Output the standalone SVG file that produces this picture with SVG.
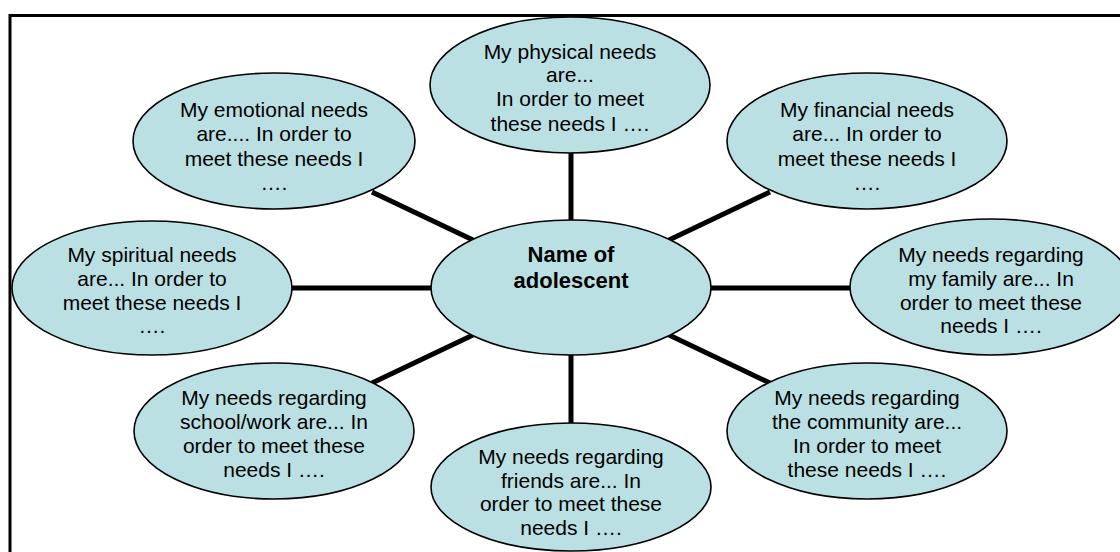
<svg xmlns="http://www.w3.org/2000/svg" width="1120" height="552" viewBox="0 0 1120 552">
<style>
.bg{fill:#ffffff}
.frame{fill:none;stroke:#000;stroke-width:3}
.node{fill:#BBE0E3;stroke:#000;stroke-width:1.6}
.conn{stroke:#000;stroke-width:5;fill:none}
.t{font-family:"Liberation Sans",Arial,sans-serif;font-size:21px;fill:#000;text-anchor:middle}
.b{font-family:"Liberation Sans",Arial,sans-serif;font-size:22px;font-weight:bold;fill:#000;text-anchor:middle}
</style>
<rect class="bg" x="0" y="0" width="1120" height="552"/>
<rect class="frame" x="10" y="15.5" width="1130" height="560"/>
<g id="connectors">
<line class="conn" x1="571" y1="152" x2="571" y2="221"/>
<line class="conn" x1="571" y1="354" x2="571" y2="424"/>
<line class="conn" x1="291" y1="288" x2="432" y2="288"/>
<line class="conn" x1="710" y1="288" x2="851" y2="288"/>
<line class="conn" x1="372" y1="192" x2="473" y2="240"/>
<line class="conn" x1="770" y1="192" x2="669" y2="240"/>
<line class="conn" x1="372" y1="383" x2="473" y2="335"/>
<line class="conn" x1="770" y1="383" x2="669" y2="335"/>
</g>
<g id="center">
<ellipse class="node" cx="571" cy="287.5" rx="140" ry="67.5"/>
<text class="b" x="571" y="262">Name of</text>
<text class="b" x="571" y="288">adolescent</text>
</g>
<g id="physical">
<ellipse class="node" cx="570" cy="85" rx="140" ry="68"/>
<text class="t" x="570" y="58.5">My physical needs</text>
<text class="t" x="570" y="82.2">are...</text>
<text class="t" x="570" y="106">In order to meet</text>
<text class="t" x="570" y="130.5">these needs I ….</text>
</g>
<g id="emotional">
<ellipse class="node" cx="274" cy="141" rx="141" ry="68"/>
<text class="t" x="274" y="117">My emotional needs</text>
<text class="t" x="274" y="141">are.... In order to</text>
<text class="t" x="274" y="165.5">meet these needs I</text>
<text class="t" x="274" y="190">….</text>
</g>
<g id="financial">
<ellipse class="node" cx="867" cy="141" rx="140" ry="68"/>
<text class="t" x="867" y="117">My financial needs</text>
<text class="t" x="867" y="141">are... In order to</text>
<text class="t" x="867" y="165.5">meet these needs I</text>
<text class="t" x="867" y="190">….</text>
</g>
<g id="spiritual">
<ellipse class="node" cx="152" cy="288" rx="140" ry="67"/>
<text class="t" x="152" y="262">My spiritual needs</text>
<text class="t" x="152" y="285.5">are... In order to</text>
<text class="t" x="152" y="309.5">meet these needs I</text>
<text class="t" x="152" y="333">….</text>
</g>
<g id="family">
<ellipse class="node" cx="991" cy="287" rx="141" ry="68"/>
<text class="t" x="991" y="262">My needs regarding</text>
<text class="t" x="991" y="285.5">my family are... In</text>
<text class="t" x="991" y="309.5">order to meet these</text>
<text class="t" x="991" y="333">needs I ….</text>
</g>
<g id="schoolwork">
<ellipse class="node" cx="274" cy="431" rx="140" ry="68"/>
<text class="t" x="274" y="405">My needs regarding</text>
<text class="t" x="274" y="429">school/work are... In</text>
<text class="t" x="274" y="453">order to meet these</text>
<text class="t" x="274" y="476.5">needs I ….</text>
</g>
<g id="community">
<ellipse class="node" cx="867" cy="431" rx="140" ry="68"/>
<text class="t" x="867" y="405">My needs regarding</text>
<text class="t" x="867" y="428.5">the community are...</text>
<text class="t" x="867" y="453">In order to meet</text>
<text class="t" x="867" y="477">these needs I ….</text>
</g>
<g id="friends">
<ellipse class="node" cx="571" cy="487" rx="140" ry="64"/>
<text class="t" x="571" y="463.5">My needs regarding</text>
<text class="t" x="571" y="487.5">friends are... In</text>
<text class="t" x="571" y="511">order to meet these</text>
<text class="t" x="571" y="535">needs I ….</text>
</g>
</svg>
